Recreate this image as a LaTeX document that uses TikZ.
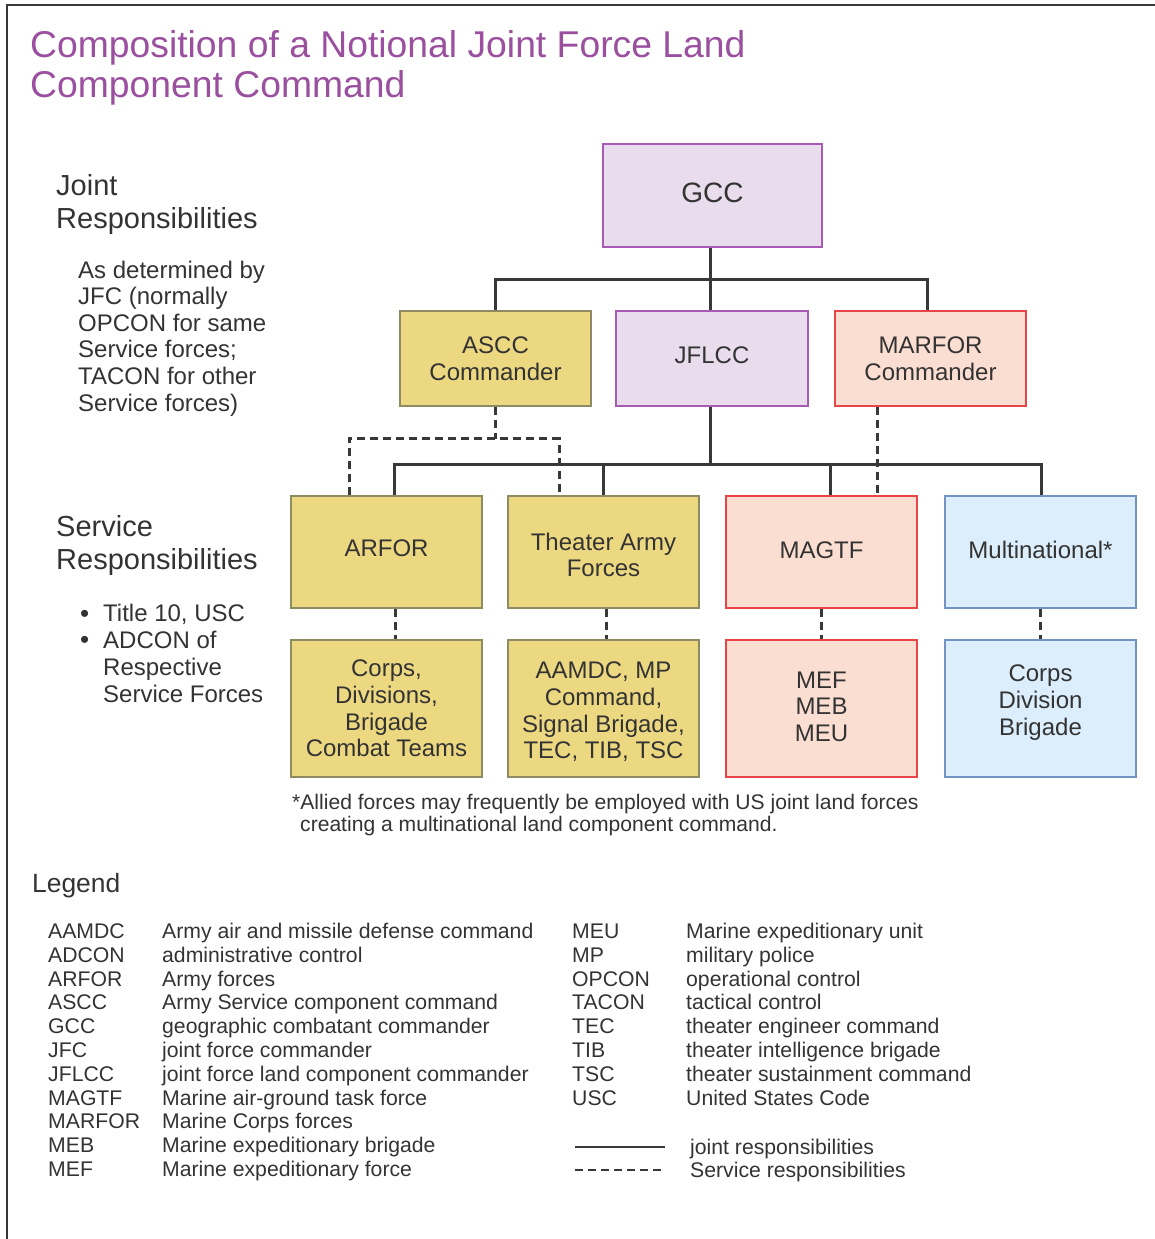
\documentclass[tikz,border=0pt]{standalone}
\usepackage{fontspec}
\setmainfont{Liberation Sans}
\definecolor{ink}{HTML}{333333}
\definecolor{titlec}{HTML}{9A4F9F}
\definecolor{ylwfill}{HTML}{EDD882}
\definecolor{ylwline}{HTML}{8E8B62}
\definecolor{purfill}{HTML}{E9DDED}
\definecolor{purline}{HTML}{A85AB4}
\definecolor{pnkfill}{HTML}{FBDED2}
\definecolor{pnkline}{HTML}{E84548}
\definecolor{blufill}{HTML}{DCEEFB}
\definecolor{bluline}{HTML}{7293C4}
\definecolor{conn}{HTML}{383838}
\newcommand\lowpad[1]{\rule[-#1]{0pt}{0pt}}
\newcommand\toppad[1]{\rule{0pt}{#1}}
\begin{document}
\begin{tikzpicture}[x=1pt,y=-1pt,
  box/.style={draw, line width=1.3pt, inner sep=0pt, align=center, text=ink,
    font=\fontsize{24}{26.7}\selectfont},
  ylw/.style={box, fill=ylwfill, draw=ylwline},
  pur/.style={box, fill=purfill, draw=purline},
  pnk/.style={box, fill=pnkfill, draw=pnkline},
  blu/.style={box, fill=blufill, draw=bluline},
  midrow/.style={minimum width=191pt, minimum height=112pt},
  lowrow/.style={minimum width=191pt, minimum height=137pt},
  jointline/.style={draw=conn, line width=3pt},
  svcline/.style={draw=conn, line width=3pt, dash pattern=on 8pt off 5pt},
  txt/.style={anchor=base west, inner sep=0pt, text=ink},
  lgd/.style={txt, font=\fontsize{21.2}{24}\selectfont},
]
\useasboundingbox (0,0) rectangle (1154,1239);
% frame (top and left edges visible)
\draw[line width=2.5pt, draw=conn] (7,1250) -- (7,5) -- (1170,5);

% title
\node[txt, text=titlec, font=\fontsize{37.3}{40}\selectfont] (title1) at (30,57) {Composition of a Notional Joint Force Land};
\node[txt, text=titlec, font=\fontsize{37.3}{40}\selectfont] (title2) at (30,97) {Component Command};

% left texts
\node[txt, font=\fontsize{29}{33}\selectfont] (jr1) at (56,195) {Joint};
\node[txt, font=\fontsize{29}{33}\selectfont] (jr2) at (56,228) {Responsibilities};
\foreach \t [count=\i] in {As determined by, JFC (normally, OPCON for same, Service forces;, TACON for other, Service forces)}
  \node[txt, font=\fontsize{24}{27}\selectfont] (jd\i) at (78,{278+(\i-1)*26.6}) {\t};
\node[txt, font=\fontsize{29}{33}\selectfont] (sr1) at (56,536) {Service};
\node[txt, font=\fontsize{29}{33}\selectfont] (sr2) at (56,569) {Responsibilities};
\node[txt, font=\fontsize{26}{27}\selectfont] (b1) at (80,622) {•};
\node[txt, font=\fontsize{26}{27}\selectfont] (b2) at (80,648.6) {•};
\foreach \t [count=\i] in {{Title 10, USC}, ADCON of, Respective, Service Forces}
  \node[txt, font=\fontsize{24}{27}\selectfont] (sd\i) at (103,{621.6+(\i-1)*26.8}) {\t};

% boxes
\node[pur, minimum width=219pt, minimum height=103pt, font=\fontsize{28}{32}\selectfont] (gcc) at (712.5,195.5) {GCC\lowpad{6pt}};
\node[ylw, minimum width=191pt, minimum height=95pt] (ascc) at (495.5,358.5) {ASCC\\Commander};
\node[pur, minimum width=192pt, minimum height=95pt] (jflcc) at (712,358.5) {JFLCC\lowpad{6pt}};
\node[pnk, minimum width=191pt, minimum height=95pt] (marfor) at (930.5,358.5) {MARFOR\\Commander};

\node[ylw, midrow] (arfor) at (386.5,552) {ARFOR\lowpad{8pt}};
\node[ylw, midrow] (taf) at (603.5,552) {\toppad{23.5pt}Theater Army\\Forces};
\node[pnk, midrow] (magtf) at (821.5,552) {MAGTF\lowpad{4pt}};
\node[blu, midrow] (multi) at (1040.5,552) {Multinational*\lowpad{4pt}};

\node[ylw, lowrow] (corps) at (386.5,708.5) {Corps,\\Divisions,\\Brigade\\Combat Teams};
\node[ylw, lowrow] (aamdc) at (603.5,708.5) {\toppad{23.5pt}AAMDC, MP\\Command,\\Signal Brigade,\\TEC, TIB, TSC};
\node[pnk, lowrow] (mef) at (821.5,708.5) {MEF\\MEB\\MEU\lowpad{4pt}};
\node[blu, lowrow] (cdb) at (1040.5,708.5) {Corps\\Division\\Brigade\lowpad{17pt}};

% joint connectors
\draw[jointline] ([xshift=-2.5pt]gcc.south) -- ++(0,32) coordinate (t1);
\draw[jointline] (ascc.north) |- (t1) -| ([xshift=-3.5pt]marfor.north);
\draw[jointline] (t1) -- ([xshift=-2pt]jflcc.north);
\draw[jointline] ([xshift=-2pt]jflcc.south) -- ++(0,58) coordinate (t2);
\draw[jointline] ([xshift=7.5pt]arfor.north) |- (t2) -| ([xshift=0.5pt]multi.north);
\draw[jointline] (taf.north) -- (taf.north |- t2);
\draw[jointline] ([xshift=8.5pt]magtf.north) -- ([xshift=8.5pt]magtf.north |- t2);

% service connectors
\draw[svcline] (ascc.south) -- ++(0,32) coordinate (d1);
\draw[svcline] ([xshift=-37.5pt]arfor.north) |- (d1) -| ([xshift=-44.5pt]taf.north);
\draw[svcline] ([xshift=-53.5pt]marfor.south) -- ([xshift=55.5pt]magtf.north);
\draw[svcline] ([xshift=8.5pt]arfor.south) -- ([xshift=8.5pt]corps.north);
\draw[svcline] ([xshift=2.5pt]taf.south) -- ([xshift=2.5pt]aamdc.north);
\draw[svcline] (magtf.south) -- (mef.north);
\draw[svcline] (multi.south) -- (cdb.north);

% footnote
\node[txt, font=\fontsize{21.1}{24}\selectfont] (fn1) at (292,809.5) {*Allied forces may frequently be employed with US joint land forces};
\node[txt, font=\fontsize{21.1}{24}\selectfont] (fn2) at (300,831.5) {creating a multinational land component command.};

% legend
\node[txt, font=\fontsize{26.4}{30}\selectfont] (legend) at (32,892.5) {Legend};
\foreach \a/\d [count=\i] in {AAMDC/Army air and missile defense command, ADCON/administrative control, ARFOR/Army forces, ASCC/Army Service component command, GCC/geographic combatant commander, JFC/joint force commander, JFLCC/joint force land component commander, MAGTF/Marine air-ground task force, MARFOR/Marine Corps forces, MEB/Marine expeditionary brigade, MEF/Marine expeditionary force}{
  \node[lgd] (la\i) at (48,{938.5+(\i-1)*23.8}) {\a};
  \node[lgd] (ld\i) at (162,{938.5+(\i-1)*23.8}) {\d};
}
\foreach \a/\d [count=\i] in {MEU/Marine expeditionary unit, MP/military police, OPCON/operational control, TACON/tactical control, TEC/theater engineer command, TIB/theater intelligence brigade, TSC/theater sustainment command, USC/United States Code}{
  \node[lgd] (ra\i) at (572,{938.5+(\i-1)*23.8}) {\a};
  \node[lgd] (rd\i) at (686,{938.5+(\i-1)*23.8}) {\d};
}
\coordinate (s1) at (575,1147);
\coordinate (s2) at (665,1147);
\coordinate (v1) at (575,1170);
\coordinate (v2) at (665,1170);
\draw[jointline, line width=2.5pt] (s1) -- (s2);
\draw[svcline, line width=2.5pt] (v1) -- (v2);
\node[lgd] (ljr) at (690,1154.5) {joint responsibilities};
\node[lgd] (lsr) at (690,1177.5) {Service responsibilities};
\end{tikzpicture}
\end{document}
